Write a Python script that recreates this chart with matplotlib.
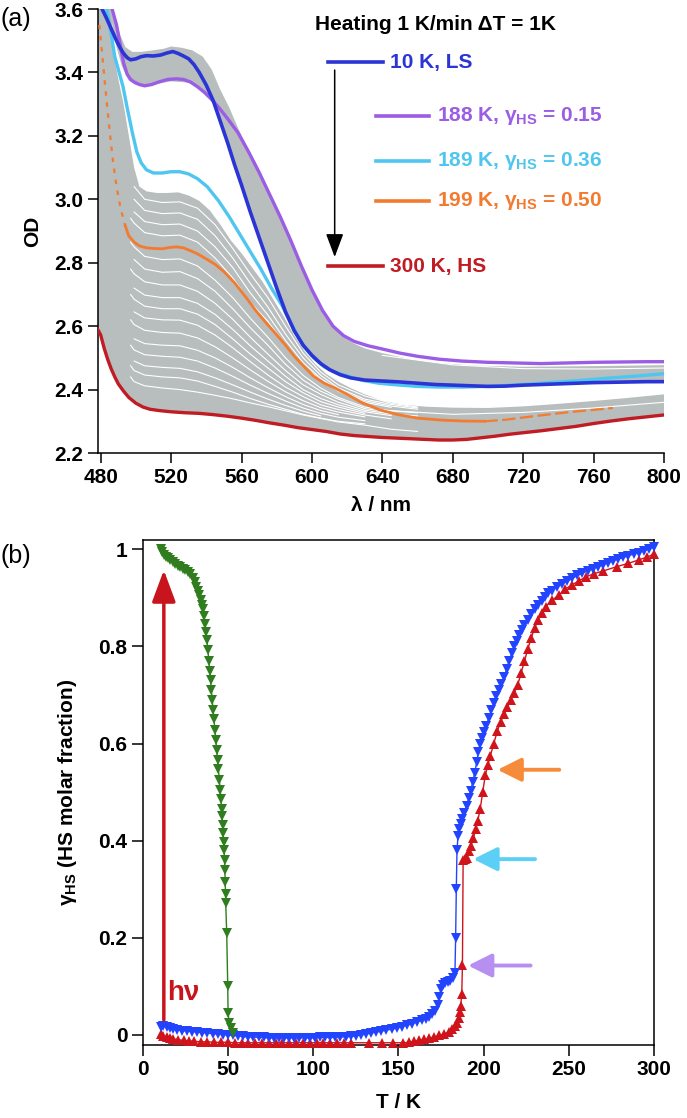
import numpy as np
import matplotlib
matplotlib.use("Agg")
import matplotlib.pyplot as plt

plt.rcParams['font.family'] = ['Liberation Sans', 'DejaVu Sans']
plt.rcParams['font.weight'] = 'bold'
plt.rcParams['axes.labelweight'] = 'bold'
plt.rcParams['mathtext.fontset'] = 'custom'
plt.rcParams['mathtext.rm'] = 'Liberation Sans:bold'
plt.rcParams['mathtext.it'] = 'Liberation Sans:bold'
plt.rcParams['mathtext.bf'] = 'Liberation Sans:bold'

nan = np.nan

# ---------------- panel (a): spectra (wavelength nm, OD) ----------------
blue_spec = [(480.8, 3.6), (483, 3.575), (485, 3.55), (487, 3.525), (489, 3.5), (491, 3.478),
             (493, 3.46), (495, 3.447), (497, 3.44), (500, 3.443), (503, 3.45), (506, 3.453),
             (510, 3.452), (514, 3.455), (518, 3.462), (521, 3.466), (524, 3.46), (527, 3.452),
             (530, 3.443), (533, 3.425), (536, 3.40), (540, 3.36), (544, 3.31), (548, 3.245),
             (552, 3.18), (556, 3.11), (560, 3.045), (565, 2.96), (570, 2.88), (575, 2.80),
             (580, 2.72), (585, 2.645), (590, 2.585), (595, 2.54), (600, 2.508), (605, 2.482),
             (610, 2.463), (616, 2.447), (622, 2.437), (630, 2.43), (640, 2.427), (650, 2.424),
             (660, 2.42), (670, 2.416), (680, 2.414), (690, 2.412), (700, 2.41), (710, 2.411),
             (720, 2.414), (730, 2.416), (740, 2.418), (750, 2.42), (760, 2.422), (770, 2.423),
             (780, 2.424), (790, 2.425), (800, 2.425)]

purple_spec = [(486.5, 3.6), (489, 3.55), (491, 3.49), (493, 3.43), (495, 3.395), (497, 3.378),
               (499, 3.37), (502, 3.362), (505, 3.358), (509, 3.362), (513, 3.37), (518, 3.378),
               (523, 3.38), (527, 3.378), (531, 3.37), (535, 3.355), (539, 3.337), (543, 3.315),
               (547, 3.29), (552, 3.255), (558, 3.21), (564, 3.15), (570, 3.085), (576, 3.015),
               (582, 2.945), (588, 2.87), (594, 2.79), (600, 2.715), (606, 2.65), (612, 2.6),
               (618, 2.57), (624, 2.552), (632, 2.538), (640, 2.528), (650, 2.515), (660, 2.505),
               (672, 2.496), (685, 2.49), (700, 2.486), (715, 2.484), (730, 2.482), (745, 2.484),
               (760, 2.486), (775, 2.487), (790, 2.488), (800, 2.488)]

cyan_spec = [(483.5, 3.6), (486, 3.52), (488, 3.45), (490.5, 3.4), (492.7, 3.355), (495, 3.29),
             (498, 3.21), (500.5, 3.15), (503, 3.115), (506, 3.093), (510, 3.083), (515, 3.083),
             (520, 3.087), (525, 3.087), (530, 3.08), (535, 3.065), (540.5, 3.04), (547, 2.995),
             (553, 2.945), (559, 2.89), (565, 2.835), (571, 2.78), (577, 2.72), (583, 2.665),
             (589, 2.6), (595, 2.54), (601, 2.5), (607, 2.472), (613, 2.455), (620, 2.443),
             (628, 2.43), (638, 2.42), (648, 2.415), (660, 2.41), (673, 2.408), (686, 2.408),
             (698, 2.41), (710, 2.413), (725, 2.418), (740, 2.424), (755, 2.43), (770, 2.437),
             (785, 2.443), (800, 2.45)]

orange_short = [(479.2, 3.55), (481, 3.45), (483, 3.33), (485, 3.22), (487, 3.12), (489, 3.04),
                (491, 2.98), (493, 2.935), (494, 2.916)]
orange_spec = [(494, 2.916), (496, 2.884), (499, 2.865), (502, 2.853), (506, 2.847), (510, 2.845),
               (515, 2.844), (519, 2.848), (523, 2.85), (527, 2.847), (531, 2.838), (535, 2.828),
               (540, 2.812), (545, 2.795), (550, 2.772), (556, 2.737), (562, 2.695), (568, 2.65),
               (574, 2.61), (579, 2.579), (585, 2.54), (590, 2.505), (596, 2.47), (601, 2.442),
               (607, 2.42), (613, 2.405), (620, 2.385), (628, 2.36), (638, 2.337), (648, 2.322),
               (660, 2.31), (673, 2.304), (685, 2.301), (698, 2.30)]
orange_tail = [(698, 2.30), (710, 2.305), (723, 2.314), (735, 2.322), (748, 2.33), (760, 2.336),
               (771, 2.342)]

red_spec = [(478.3, 2.59), (480, 2.572), (482, 2.53), (484, 2.495), (486, 2.465), (488, 2.44),
            (490, 2.418), (493, 2.395), (496, 2.375), (500, 2.357), (504, 2.345), (508, 2.338),
            (513, 2.334), (520, 2.33), (528, 2.327), (536, 2.325), (544, 2.321), (552, 2.316),
            (560, 2.31), (568, 2.303), (576, 2.295), (584, 2.288), (592, 2.28), (600, 2.274),
            (608, 2.268), (616, 2.26), (624, 2.255), (632, 2.252), (640, 2.249), (648, 2.247),
            (656, 2.245), (664, 2.243), (672, 2.241), (680, 2.241), (688, 2.243), (696, 2.248),
            (704, 2.253), (712, 2.259), (720, 2.264), (730, 2.27), (740, 2.277), (750, 2.284),
            (760, 2.293), (770, 2.301), (780, 2.308), (790, 2.314), (800, 2.32)]

# gray family of intermediate spectra: envelopes
grayA_top = [(478.3, 3.6), (486, 3.6), (488, 3.44), (490, 3.38), (493, 3.30), (496, 3.2),
             (499, 3.10), (502, 3.04), (506, 3.025), (512, 3.02), (518, 3.02), (524, 3.022),
             (530, 3.012), (536, 2.995), (542, 2.965), (548, 2.92), (554, 2.87), (560, 2.83),
             (566, 2.785), (572, 2.74), (578, 2.685), (584, 2.63), (590, 2.57), (596, 2.52),
             (602, 2.48), (608, 2.45), (615, 2.425), (622, 2.405), (630, 2.385), (640, 2.365),
             (652, 2.352), (665, 2.346), (680, 2.343), (700, 2.342), (720, 2.347), (740, 2.355),
             (760, 2.364), (780, 2.374), (800, 2.385)]
grayB_top = [(485, 3.6), (489, 3.56), (491, 3.52), (494, 3.48), (498, 3.465), (503, 3.465),
             (510, 3.47), (516, 3.475), (520, 3.482), (526, 3.478), (532, 3.47), (538, 3.45),
             (543, 3.41), (548, 3.345), (553, 3.29), (558, 3.225), (564, 3.155), (570, 3.09),
             (576, 3.02), (582, 2.95), (588, 2.875), (594, 2.795), (600, 2.72), (606, 2.655),
             (612, 2.6), (618, 2.565), (624, 2.545), (630, 2.53), (640, 2.515), (655, 2.497),
             (670, 2.485), (690, 2.476), (720, 2.472), (760, 2.474), (800, 2.477)]
grayB_low = [(485, 3.6), (489, 3.48), (492, 3.42), (496, 3.375), (500, 3.36), (510, 3.362),
             (520, 3.372), (530, 3.368), (537, 3.345), (544, 3.31), (548, 3.245), (552, 3.18),
             (556, 3.11), (560, 3.045), (565, 2.96), (570, 2.88), (575, 2.80), (580, 2.72),
             (585, 2.645), (590, 2.585), (595, 2.54), (600, 2.508), (605, 2.482), (610, 2.463),
             (616, 2.447), (625, 2.435), (640, 2.427), (660, 2.42), (700, 2.41), (750, 2.42),
             (800, 2.425)]

# white gaps between neighbouring gray spectra
gap_wl = [497, 499, 505, 515, 525, 535, 545, 555, 565, 575, 585, 595, 605, 615, 630, 645, 660]
gap_lines = [
    [nan, 3.04, 3.0, 2.99, 2.992, 2.972, 2.92, 2.845, 2.765, 2.69, 2.60, 2.515, 2.455, 2.415, 2.38, 2.357, 2.345],
    [nan, 3.0, 2.965, 2.955, 2.957, 2.937, 2.885, 2.815, 2.735, 2.66, 2.575, 2.50, 2.445, 2.405, 2.37, 2.353, 2.342],
    [nan, 2.96, 2.93, 2.92, 2.922, 2.90, 2.85, 2.785, 2.705, 2.635, 2.555, 2.485, 2.435, 2.40, 2.365, 2.348, 2.338],
    [2.94, 2.925, 2.895, 2.885, 2.887, 2.865, 2.815, 2.752, 2.675, 2.615, 2.54, 2.475, 2.43, 2.395, 2.36, 2.344, nan],
    [2.865, 2.85, 2.82, 2.81, 2.812, 2.79, 2.745, 2.69, 2.625, 2.565, 2.50, 2.445, 2.405, 2.375, 2.345, 2.333, 2.327],
    [nan, 2.81, 2.78, 2.77, 2.772, 2.75, 2.71, 2.655, 2.595, 2.54, 2.48, 2.43, 2.395, 2.37, 2.34, 2.328, nan],
    [2.78, 2.765, 2.74, 2.73, 2.73, 2.71, 2.672, 2.622, 2.565, 2.512, 2.46, 2.415, 2.385, 2.36, 2.335, 2.323, 2.317],
    [nan, 2.72, 2.698, 2.69, 2.69, 2.672, 2.637, 2.59, 2.538, 2.49, 2.442, 2.40, 2.372, 2.352, 2.33, 2.318, nan],
    [2.70, 2.685, 2.663, 2.655, 2.655, 2.638, 2.605, 2.56, 2.512, 2.468, 2.425, 2.39, 2.362, 2.345, 2.325, nan, nan],
    [nan, 2.645, 2.626, 2.62, 2.619, 2.603, 2.572, 2.532, 2.488, 2.446, 2.408, 2.378, 2.352, 2.337, 2.32, 2.308, nan],
    [2.62, 2.605, 2.587, 2.58, 2.578, 2.563, 2.535, 2.50, 2.462, 2.426, 2.393, 2.365, 2.343, 2.329, 2.314, nan, nan],
    [nan, 2.56, 2.545, 2.54, 2.538, 2.524, 2.50, 2.47, 2.437, 2.406, 2.378, 2.353, 2.334, 2.321, nan, nan, nan],
    [2.54, 2.525, 2.51, 2.505, 2.502, 2.49, 2.468, 2.442, 2.414, 2.388, 2.364, 2.342, 2.325, 2.313, 2.302, nan, nan],
    [nan, 2.49, 2.475, 2.47, 2.467, 2.456, 2.437, 2.415, 2.392, 2.37, 2.35, 2.332, 2.317, nan, nan, nan, nan],
    [2.475, 2.46, 2.446, 2.44, 2.437, 2.427, 2.41, 2.392, 2.372, 2.354, 2.338, 2.322, 2.31, 2.30, 2.292, nan, nan],
    [2.44, 2.425, 2.412, 2.405, 2.40, 2.392, 2.382, 2.371, 2.358, 2.346, 2.333, 2.32, 2.309, 2.298, 2.288, 2.275, 2.268],
]
gap_long_wl = [640, 680, 720, 760, 800]
gap_long_low = [2.335, 2.322, 2.328, 2.342, 2.36]
gap_long_high = [2.508, 2.478, 2.466, 2.465, 2.468]

# ---------------- panel (b): gamma_HS vs T ----------------
green_pts = [(10.6, 1.0), (11.6, 0.994), (12.6, 0.989), (13.6, 0.985), (14.6, 0.982), (16, 0.978),
             (17.5, 0.974), (19, 0.970), (20.5, 0.966), (22, 0.963), (23.5, 0.960), (25, 0.957),
             (26.5, 0.953), (28, 0.948), (29.3, 0.941), (30.4, 0.932), (31.3, 0.923), (32.2, 0.914),
             (33.1, 0.905), (34, 0.895), (34.7, 0.886), (35.3, 0.877), (35.9, 0.862), (36.5, 0.846),
             (37.1, 0.830), (37.7, 0.813), (38.3, 0.792), (38.8, 0.770), (39.3, 0.750), (39.8, 0.730),
             (40.3, 0.710), (40.8, 0.690), (41.3, 0.670), (41.8, 0.650), (42.4, 0.627), (42.9, 0.607),
             (43.4, 0.587), (43.9, 0.567), (44.4, 0.547), (45.0, 0.524), (45.5, 0.504), (45.9, 0.485),
             (46.3, 0.465), (46.6, 0.450), (46.9, 0.432), (47.2, 0.415), (47.5, 0.398), (47.8, 0.380),
             (48.0, 0.360), (48.2, 0.340), (48.4, 0.315), (48.6, 0.290), (48.7, 0.272), (49.3, 0.210),
             (49.9, 0.100), (50.1, 0.045), (50.8, 0.025), (51.8, 0.014), (53.2, 0.004)]

blue_pts = [(10.5, 0.016), (12, 0.018), (14, 0.017), (16, 0.015), (18, 0.013), (20, 0.011),
            (23, 0.009), (26, 0.008), (29, 0.007), (32, 0.006), (35, 0.005), (38, 0.004),
            (41, 0.003), (44, 0.002), (47, 0.001), (50, 0.0), (53, -0.001), (56, -0.002),
            (59, -0.003), (62, -0.004), (65, -0.004), (68, -0.005), (71, -0.005), (74, -0.006),
            (77, -0.006), (80, -0.006), (83, -0.006), (86, -0.006), (89, -0.006), (92, -0.006),
            (95, -0.006), (98, -0.006), (101, -0.006), (104, -0.005), (107, -0.005), (110, -0.005),
            (113, -0.005), (116, -0.004), (119, -0.004), (122, -0.003), (125, -0.002), (128, 0.0),
            (131, 0.002), (134, 0.004), (137, 0.006), (140, 0.008), (143, 0.01), (146, 0.012),
            (149, 0.014), (152, 0.017), (155, 0.02), (158, 0.023), (161, 0.027), (164, 0.03),
            (166, 0.033), (168, 0.037), (170, 0.043), (171.5, 0.05), (173, 0.062), (174, 0.078),
            (175, 0.095), (176, 0.103), (177.5, 0.106), (179, 0.109), (180.5, 0.112), (182, 0.118),
            (183.2, 0.128), (183.6, 0.2), (184, 0.3), (184.4, 0.38), (185, 0.41), (185.8, 0.425),
            (186.6, 0.435), (187.6, 0.445), (188.8, 0.458), (190, 0.472), (191.2, 0.487),
            (192.4, 0.503), (193.6, 0.52), (194.8, 0.54), (196, 0.562), (197, 0.583), (198, 0.6),
            (199.2, 0.612), (200.4, 0.624), (201.6, 0.637), (203, 0.652), (204.5, 0.668),
            (206, 0.684), (207.5, 0.698), (209, 0.71), (210.5, 0.722), (212, 0.737), (213.5, 0.753),
            (215, 0.77), (216.5, 0.786), (218, 0.8), (219.5, 0.812), (221, 0.824), (222.5, 0.834),
            (224, 0.843), (226, 0.855), (228, 0.866), (230, 0.876), (232, 0.885), (234, 0.893),
            (236, 0.901), (238, 0.909), (240, 0.915), (243, 0.922), (246, 0.928), (249, 0.934),
            (252, 0.94), (255, 0.946), (258, 0.951), (261, 0.955), (264, 0.96), (267, 0.964),
            (270, 0.968), (273, 0.972), (276, 0.976), (279, 0.98), (282, 0.983), (285, 0.987),
            (288, 0.99), (291, 0.993), (294, 0.997), (297, 1.0), (300, 1.004)]

red_pts = [(10.5, 0.002), (12, -0.002), (14, -0.004), (16, -0.006), (18, -0.008), (21, -0.01),
           (24, -0.011), (27, -0.012), (30, -0.013), (34, -0.014), (38, -0.014), (42, -0.015),
           (46, -0.015), (50, -0.015), (54, -0.016), (58, -0.016), (62, -0.016), (66, -0.016),
           (70, -0.016), (74, -0.016), (78, -0.016), (82, -0.016), (86, -0.016), (90, -0.016),
           (94, -0.016), (98, -0.016), (102, -0.016), (106, -0.016), (110, -0.016), (114, -0.016),
           (118, -0.016), (122, -0.016), (133, -0.016), (140.5, -0.016), (147, -0.016),
           (153, -0.016), (156, -0.015), (159, -0.013), (162, -0.011), (165, -0.009), (168, -0.007),
           (171, -0.004), (174, -0.001), (177, 0.002), (179.5, 0.007), (181.5, 0.012), (183, 0.018),
           (184.3, 0.025), (185.3, 0.035), (186, 0.048), (186.6, 0.06), (187.2, 0.085),
           (187.6, 0.145), (188, 0.36), (189, 0.362), (190.2, 0.365), (191.5, 0.378), (192.7, 0.39),
           (194, 0.405), (195.5, 0.425), (196.5, 0.44), (198, 0.465), (199.5, 0.5), (201, 0.535),
           (202.5, 0.555), (204, 0.575), (206, 0.6), (208, 0.625), (210, 0.645), (212, 0.66),
           (214, 0.675), (216, 0.69), (218, 0.705), (220, 0.72), (222, 0.745), (224, 0.77),
           (226, 0.795), (228, 0.818), (230, 0.838), (232, 0.855), (234, 0.868), (236.6, 0.882),
           (240, 0.895), (244, 0.905), (248, 0.918), (252, 0.927), (256, 0.935), (260, 0.943),
           (265, 0.95), (270, 0.955), (278, 0.964), (285, 0.971), (291, 0.978), (296, 0.984),
           (300, 0.99)]

# arrows marking the selected spectra: (T tip, T tail, gamma)
mark_orange = (208.2, 244.4, 0.546)
mark_cyan = (194.0, 230.2, 0.362)
mark_purple = (190.9, 227.6, 0.143)

C_BLUE, C_PURPLE, C_CYAN, C_ORANGE, C_RED, C_GRAY = '#2b35d6', '#9b5de5', '#4fc6f0', '#f27b2f', '#c01c24', '#b8bdbd'


def xy(pts):
    a = np.array(pts)
    return a[:, 0], a[:, 1]


fig = plt.figure(figsize=(6.87, 11.18), dpi=100)

# ======================= (a) =======================
ax = fig.add_axes([0.1422, 0.5948, 0.8243, 0.3971])

wa, ya = xy(grayA_top)
wr, yr = xy(red_spec)
ax.fill(np.concatenate([wa, wr[::-1]]), np.concatenate([ya, yr[::-1]]), color=C_GRAY, lw=0, zorder=1)
wbt, ybt = xy(grayB_top)
wbl, ybl = xy(grayB_low)
ax.fill(np.concatenate([wbt, wbl[::-1]]), np.concatenate([ybt, ybl[::-1]]), color=C_GRAY, lw=0, zorder=1)

for g in gap_lines:
    ax.plot(gap_wl, g, color='white', lw=0.8, zorder=2)
ax.plot(gap_long_wl, gap_long_low, color='white', lw=0.8, zorder=2)
ax.plot(gap_long_wl, gap_long_high, color='white', lw=0.8, zorder=2)

ax.plot(*xy(orange_short), color=C_ORANGE, lw=1.6, ls=(0, (2, 3)), zorder=3)
ax.plot(*xy(orange_spec), color=C_ORANGE, lw=2.0, zorder=3)
ax.plot(*xy(orange_tail), color=C_ORANGE, lw=1.6, ls=(0, (6, 2)), zorder=3)
ax.plot(*xy(red_spec), color=C_RED, lw=2.4, zorder=3)
ax.plot(*xy(cyan_spec), color=C_CYAN, lw=2.4, zorder=4)
ax.plot(*xy(purple_spec), color=C_PURPLE, lw=2.4, zorder=4)
ax.plot(*xy(blue_spec), color=C_BLUE, lw=2.6, zorder=5)

ax.set_xlim(478.3, 800)
ax.set_ylim(2.2, 3.6)
ax.set_xticks(np.arange(480, 801, 40))
ax.set_yticks(np.arange(2.2, 3.61, 0.2))
ax.set_yticklabels(['%.1f' % v for v in np.arange(2.2, 3.61, 0.2)])
ax.spines['top'].set_visible(False)
ax.spines['right'].set_visible(False)
for s in ['left', 'bottom']:
    ax.spines[s].set_linewidth(1.1)
ax.tick_params(direction='out', length=7.5, width=1.1, labelsize=15, pad=3)
ax.set_xlabel('λ / nm', fontsize=15)
ax.set_ylabel('OD', fontsize=15)
ax.xaxis.set_label_coords(0.5, -0.097)
ax.yaxis.set_label_coords(-0.098, 0.5)

# key drawn inside the panel
ax.text(0.3837, 0.966, 'Heating 1 K/min ΔT = 1K', fontsize=15, transform=ax.transAxes, va='center', ha='left')
keys = [(0.4067, 0.5038, 0.8806, C_BLUE, '10 K, LS', 0.516),
        (0.4914, 0.585, 0.759, C_PURPLE, r'188 K, $\gamma_{HS}$ = 0.15', 0.599),
        (0.4914, 0.585, 0.6577, C_CYAN, r'189 K, $\gamma_{HS}$ = 0.36', 0.599),
        (0.4914, 0.585, 0.5676, C_ORANGE, r'199 K, $\gamma_{HS}$ = 0.50', 0.599),
        (0.4067, 0.5038, 0.4212, C_RED, '300 K, HS', 0.516)]
for x0, x1, yk, col, lab, tx in keys:
    ax.plot([x0, x1], [yk, yk], color=col, lw=2.6, transform=ax.transAxes, clip_on=False, zorder=6)
    ax.text(tx, yk, lab, color=col, fontsize=15, transform=ax.transAxes, va='center', ha='left')
ax.annotate('', xy=(0.4185, 0.4414), xytext=(0.4185, 0.8626), xycoords='axes fraction',
            arrowprops=dict(arrowstyle='-|>,head_length=0.8,head_width=0.3', mutation_scale=18,
                            color='black', lw=1.1, shrinkA=0, shrinkB=0))

# ======================= (b) =======================
ax2 = fig.add_axes([0.2077, 0.0653, 0.7443, 0.4517])
ax2.plot(*xy(red_pts), color='#d0141c', marker='^', ms=7.5, mew=0, lw=1.0, zorder=3, clip_on=False)
ax2.plot(*xy(blue_pts), color='#2244ff', marker='v', ms=7.5, mew=0, lw=1.0, zorder=4, clip_on=False)
ax2.plot(*xy(green_pts), color='#2f7d1f', marker='v', ms=7.5, mew=0, lw=1.0, zorder=5, clip_on=False)

for (t0, t1, g), col in [(mark_orange, '#f68b3c'), (mark_cyan, '#5bcff5'), (mark_purple, '#b68ff0')]:
    ax2.annotate('', xy=(t0, g), xytext=(t1, g),
                 arrowprops=dict(arrowstyle='-|>,head_length=0.72,head_width=0.36', mutation_scale=20,
                                 color=col, lw=2.8, shrinkA=0, shrinkB=0), zorder=6)

ax2.annotate('', xy=(12.4, 0.957), xytext=(12.4, 0.031),
             arrowprops=dict(arrowstyle='-|>,head_length=0.97,head_width=0.36', mutation_scale=20,
                             color='#c8141c', lw=2.5, shrinkA=0, shrinkB=0), zorder=6)
ax2.text(14.3, 0.086, 'hν', color='#c8141c', fontsize=20, va='center', ha='left')

ax2.set_xlim(0, 300)
ax2.set_ylim(-0.0206, 1.019)
ax2.set_xticks(np.arange(0, 301, 50))
ax2.set_yticks([0, 0.2, 0.4, 0.6, 0.8, 1])
ax2.set_yticklabels(['0', '0.2', '0.4', '0.6', '0.8', '1'])
for s in ax2.spines.values():
    s.set_linewidth(1.1)
ax2.tick_params(direction='out', length=8, width=1.1, labelsize=15, pad=3)
ax2.set_xlabel('T / K', fontsize=15)
ax2.set_ylabel(r'$\gamma_{HS}$ (HS molar fraction)', fontsize=15)
ax2.xaxis.set_label_coords(0.5, -0.095)
ax2.yaxis.set_label_coords(-0.1246, 0.5)

fig.text(0.0, 0.983, '(a)', fontsize=18, fontweight='normal', va='center', ha='left')
fig.text(0.0, 0.5027, '(b)', fontsize=18, fontweight='normal', va='center', ha='left')

fig.savefig('out.png', dpi=100)
